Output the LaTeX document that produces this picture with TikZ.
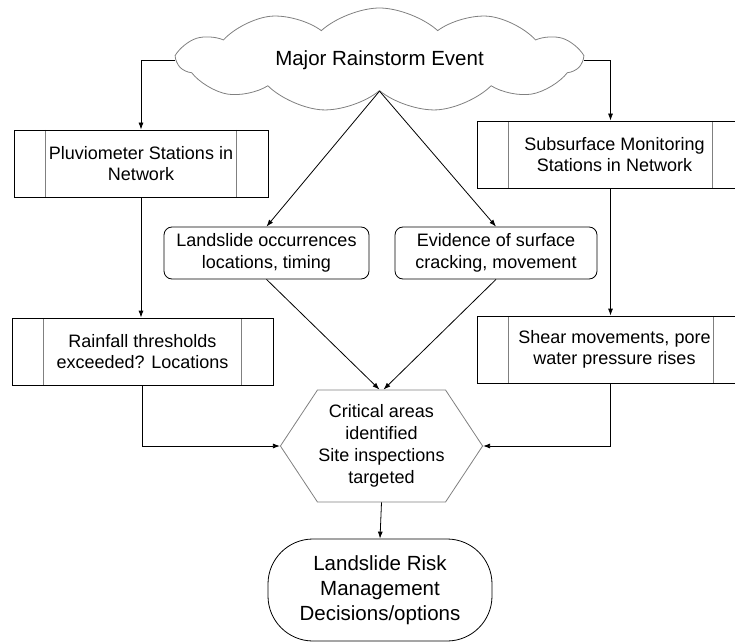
\documentclass[tikz,border=0pt]{standalone}
\usepackage{fontspec}
\setmainfont{Liberation Sans}
\usetikzlibrary{shapes.symbols,arrows.meta}

\begin{document}
\begin{tikzpicture}[x=1pt,y=-1pt,line width=0.8pt,>={Latex[length=7pt,width=5pt]},
  every node/.style={align=center,inner sep=1pt,font=\fontsize{18}{21.6}\selectfont},
  rgap/.store in=\rgap,rgap=31.5pt,
  cloudbox/.style={cloud,cloud puffs=11,cloud puff arc=85,cloud ignores aspect,draw=gray,
    minimum width=403pt,minimum height=104pt,font=\fontsize{20.5}{25}\selectfont},
  procbox/.style={draw,minimum height=67pt,
    path picture={
      \draw[gray] ([xshift=31.5pt]path picture bounding box.north west) -- ([xshift=31.5pt]path picture bounding box.south west);
      \draw[gray] ([xshift=-\rgap]path picture bounding box.north east) -- ([xshift=-\rgap]path picture bounding box.south east);}},
  eventbox/.style={draw,rounded corners=8pt,minimum height=52pt},
  hexbox/.style={signal,signal to=west and east,signal pointer angle=113,draw=gray,
    minimum width=197pt,minimum height=112pt,font=\fontsize{18}{22}\selectfont},
  termbox/.style={draw,rounded corners=45pt,minimum width=224pt,minimum height=102pt,
    font=\fontsize{20.5}{25}\selectfont}]
\useasboundingbox (0,0) rectangle (735,644);
\node[cloudbox] (storm) at (379.5,60) {Major Rainstorm Event};
\node[procbox,minimum width=254pt] (pluvio) at (141,163.5) {Pluviometer Stations in\\Network};
\node[procbox,rgap=40pt,minimum width=275pt] (subsurf) at (614.5,154.5) {Subsurface Monitoring\\Stations in Network};
\node[eventbox,minimum width=205pt] (slides) at (266.5,253) {Landslide occurrences\\locations, timing};
\node[eventbox,minimum width=202pt] (cracks) at (496,253) {Evidence of surface\\cracking, movement};
\node[procbox,minimum width=261pt] (rain) at (142.5,351.5) {Rainfall thresholds\\exceeded? Locations};
\node[procbox,rgap=39pt,minimum width=275pt] (shear) at (614.5,349.5) {Shear movements, pore\\water pressure rises};
\node[hexbox] (critical) at (381.5,446) {Critical areas\\identified\\Site inspections\\targeted};
\node[termbox] (decide) at (380,590) {Landslide Risk\\Management\\Decisions/options};
\draw[->] (storm.west) -| (pluvio.north);
\draw[->] (storm.east) -| ([xshift=-4pt]subsurf.north);
\draw[->] (storm.south) -- (slides.north);
\draw[->] (storm.south) -- (cracks.north);
\draw[->] (pluvio.south) -- (pluvio.south |- rain.north);
\draw[->] ([xshift=-4pt]subsurf.south) -- ([xshift=-4pt]subsurf.south |- shear.north);
\draw[->] (slides.south) -- ([xshift=-2pt]critical.north);
\draw[->] (cracks.south) -- ([xshift=2pt]critical.north);
\draw[->] (rain.south) |- (critical.west);
\draw[->] ([xshift=-4pt]shear.south) |- (critical.east);
\draw[->] (critical.south) -- (decide.north);
\end{tikzpicture}
\end{document}
